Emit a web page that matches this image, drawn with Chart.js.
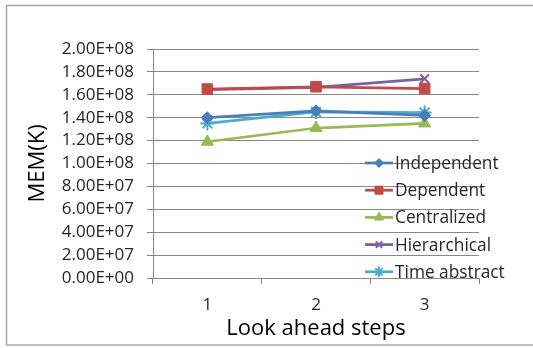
<!DOCTYPE html>
<html>
<head>
<meta charset="utf-8">
<script src="https://cdn.jsdelivr.net/npm/chart.js@4.4.1/dist/chart.umd.min.js"></script>
<style>
  html, body { margin: 0; padding: 0; background: #ffffff; }
  #wrap { width: 533px; height: 348px; position: relative; }
</style>
</head>
<body>
<div id="wrap"><canvas id="c" width="533" height="348"></canvas></div>
<script>
// Look-ahead step counts on the x axis
const steps = ['1', '2', '3'];

// Memory use per strategy (K)
const independent  = [1.40e8, 1.46e8, 1.42e8];
const dependent    = [1.65e8, 1.67e8, 1.655e8];
const centralized  = [1.19e8, 1.31e8, 1.35e8];
const hierarchical = [1.645e8, 1.665e8, 1.74e8];
const timeAbstract = [1.35e8, 1.45e8, 1.445e8];

const seriesNames = ['Independent', 'Dependent', 'Centralized', 'Hierarchical', 'Time abstract'];

const FONT = '"Open Sans", Lato, sans-serif';
const AXIS_GRAY = '#888888';

// Tick text in the 2.00E+08 style
function sciLabel(v) {
  if (v === 0) return '0.00E+00';
  const exp = Math.floor(Math.log10(Math.abs(v)) + 1e-9);
  const mant = v / Math.pow(10, exp);
  const e = String(Math.abs(exp)).padStart(2, '0');
  return mant.toFixed(2) + 'E' + (exp < 0 ? '-' : '+') + e;
}

function series(label, data, color, pointStyle, radius) {
  return {
    label, data,
    borderColor: color,
    backgroundColor: color,
    pointBackgroundColor: color,
    pointBorderColor: color,
    pointStyle,
    pointRadius: radius,
    pointHoverRadius: radius,
    pointBorderWidth: pointStyle === 'crossRot' || pointStyle === 'star' ? 2 : 1,
    borderWidth: 2.75,
    tension: 0,
    fill: false
  };
}

// Frame around the whole figure
const framePlugin = {
  id: 'frame',
  beforeDraw(chart) {
    const ctx = chart.ctx;
    ctx.save();
    ctx.fillStyle = '#ffffff';
    ctx.fillRect(0, 0, chart.width, chart.height);
    ctx.strokeStyle = '#a6a6a6';
    ctx.lineWidth = 1.5;
    ctx.strokeRect(6.5, 5.5, 560, 339.5);
    ctx.restore();
  }
};

// Legend stacked inside the lower right of the plot
const insideLegend = {
  id: 'insideLegend',
  afterDraw(chart) {
    const ctx = chart.ctx;
    const x0 = 365, x1 = 393, textX = 395;
    const rowTop = 163, rowStep = 27.2;
    ctx.save();
    chart.data.datasets.forEach((ds, i) => {
      const y = rowTop + i * rowStep;
      ctx.strokeStyle = ds.borderColor;
      ctx.lineWidth = 2.75;
      ctx.beginPath();
      ctx.moveTo(x0, y);
      ctx.lineTo(x1, y);
      ctx.stroke();
      ctx.fillStyle = ds.borderColor;
      ctx.strokeStyle = ds.borderColor;
      ctx.lineWidth = ds.pointBorderWidth;
      Chart.helpers.drawPoint(ctx, { pointStyle: ds.pointStyle, rotation: 0, radius: ds.pointRadius * 0.75, borderWidth: ds.pointBorderWidth },
        (x0 + x1) / 2, y);
      ctx.fillStyle = '#262626';
      ctx.font = '17.3px ' + FONT;
      ctx.textAlign = 'left';
      ctx.textBaseline = 'middle';
      ctx.fillText(ds.label, textX, y + 1);
    });
    ctx.restore();
  }
};

const chart = new Chart(document.getElementById('c'), {
  type: 'line',
  data: {
    labels: steps,
    datasets: [
      series(seriesNames[0], independent,  '#4a7ebb', 'rectRot', 6),
      series(seriesNames[1], dependent,    '#be4b48', 'rect', 7.5),
      series(seriesNames[2], centralized,  '#98b954', 'triangle', 7),
      series(seriesNames[3], hierarchical, '#7d60a0', 'crossRot', 6),
      series(seriesNames[4], timeAbstract, '#4bacc6', 'star', 7)
    ]
  },
  options: {
    responsive: false,
    animation: false,
    devicePixelRatio: 1,
    layout: { padding: { top: 49, right: 54, bottom: 0, left: 0 } },
    plugins: {
      legend: { display: false },
      tooltip: { enabled: false }
    },
    scales: {
      x: {
        offset: true,
        grid: { offset: true, drawOnChartArea: false, drawTicks: true, tickLength: 6, color: AXIS_GRAY },
        border: { color: AXIS_GRAY, width: 1 },
        ticks: { color: '#262626', font: { family: FONT, size: 17 }, padding: 11 },
        title: { display: true, text: 'Look ahead steps', color: '#000000', font: { family: FONT, size: 22 }, padding: { top: 0, bottom: 6.5 } },
        afterFit(scale) { scale.height = 70; }
      },
      y: {
        min: 0,
        max: 2.0e8,
        afterBuildTicks(scale) {
          const t = [];
          for (let v = 0; v <= 2.0e8 + 1; v += 2.0e7) t.push({ value: v });
          scale.ticks = t;
        },
        grid: { color: AXIS_GRAY, lineWidth: 1, drawTicks: true, tickLength: 6 },
        border: { color: AXIS_GRAY, width: 1 },
        ticks: { color: '#262626', font: { family: FONT, size: 17, lineHeight: 1.0 }, padding: 13, autoSkip: false, callback: v => sciLabel(v) },
        title: { display: true, text: 'MEM(K)', color: '#000000', font: { family: FONT, size: 22 }, padding: { top: 24.5, bottom: 0 } },
        afterFit(scale) { scale.width = 153; }
      }
    }
  },
  plugins: [framePlugin, insideLegend]
});
</script>
</body>
</html>
